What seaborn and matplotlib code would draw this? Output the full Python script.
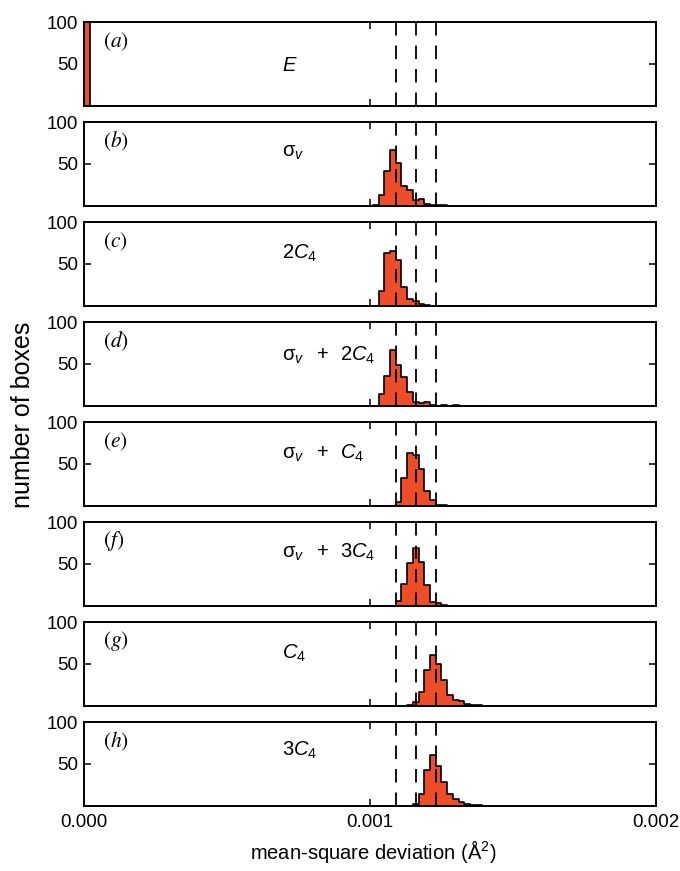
import numpy as np
import pandas as pd
import matplotlib
matplotlib.use("Agg")
import matplotlib.pyplot as plt
import seaborn as sns

sns.set_style("ticks")
plt.rcParams["font.family"] = ["Liberation Sans", "DejaVu Sans"]
plt.rcParams["text.color"] = "black"
plt.rcParams["axes.labelcolor"] = "black"
plt.rcParams["mathtext.fontset"] = "custom"
plt.rcParams["mathtext.rm"] = "Liberation Sans"
plt.rcParams["mathtext.it"] = "Liberation Sans:italic"
plt.rcParams["mathtext.bf"] = "Liberation Sans:bold"

# histogram bins (mean-square deviation, Å^2)
bin_width = 0.00002
bin_centers = [0.00100, 0.00102, 0.00104, 0.00106, 0.00108, 0.00110, 0.00112,
               0.00114, 0.00116, 0.00118, 0.00120, 0.00122, 0.00124, 0.00126,
               0.00128, 0.00130, 0.00132, 0.00134, 0.00136, 0.00138, 0.00140]

# identity operation: every box sits at zero deviation
identity_msd = [0.0]
identity_count = [236]

counts_b = [0, 1, 13, 41, 67, 51, 23, 18, 7, 8, 2, 1, 1, 1, 0, 0, 0, 0, 0, 0, 0]
counts_c = [0, 0, 17, 63, 65, 54, 22, 8, 5, 2, 1, 0, 0, 0, 0, 0, 0, 0, 0, 0, 0]
counts_d = [0, 0, 14, 35, 67, 49, 34, 16, 4, 3, 4, 1, 0, 1, 0, 1, 0, 0, 0, 0, 0]
counts_e = [0, 0, 0, 0, 0, 4, 33, 63, 61, 44, 17, 6, 1, 1, 0, 0, 0, 0, 0, 0, 0]
counts_f = [0, 0, 0, 0, 0, 5, 26, 51, 69, 52, 24, 4, 3, 1, 0, 0, 0, 0, 0, 0, 0]
counts_g = [0, 0, 0, 0, 0, 0, 0, 1, 4, 16, 43, 61, 50, 30, 13, 7, 5, 2, 1, 1, 0]
counts_h = [0, 0, 0, 0, 0, 0, 0, 0, 2, 14, 42, 61, 47, 28, 14, 8, 4, 2, 1, 1, 0]

panel_tags = ["a", "b", "c", "d", "e", "f", "g", "h"]
operations = [r"$E$",
              r"$\mathrm{\sigma}_{v}$",
              r"$2C_{4}$",
              r"$\mathrm{\sigma}_{v}\ \ +\ \,2C_{4}$",
              r"$\mathrm{\sigma}_{v}\ \ +\ \,C_{4}$",
              r"$\mathrm{\sigma}_{v}\ \ +\ \,3C_{4}$",
              r"$C_{4}$",
              r"$3C_{4}$"]
operation_y = [0.48, 0.63, 0.63, 0.60, 0.63, 0.64, 0.63, 0.66]

# reference deviations marked by dashed lines
reference_msd = [0.00109, 0.00116, 0.00123]

x_ticks = [0.000, 0.001, 0.002]
y_ticks = [50, 100]

fill_color = "#EE4E27"

series = [(identity_msd, identity_count)] + [
    (bin_centers, c) for c in
    [counts_b, counts_c, counts_d, counts_e, counts_f, counts_g, counts_h]]

fig, axes = plt.subplots(8, 1, figsize=(6.8, 8.71), dpi=100, sharex=True)
fig.subplots_adjust(left=0.1235, right=0.9647, top=0.9747, bottom=0.0752,
                    hspace=0.198)

for i, (ax, (values, counts), tag, op, oy) in enumerate(
        zip(axes, series, panel_tags, operations, operation_y)):
    df = pd.DataFrame({"msd": values, "boxes": counts})
    if i == 0:
        # zero-deviation boxes fall in the first bin starting at 0
        rng = (0.0, bin_width)
    else:
        rng = (df["msd"].min() - bin_width / 2,
               df["msd"].max() + bin_width / 2)
    sns.histplot(data=df, x="msd", weights="boxes", binwidth=bin_width,
                 binrange=rng, element="step", fill=True,
                 color=fill_color, alpha=1, edgecolor="black",
                 linewidth=1.2, ax=ax)
    for ref in reference_msd:
        ax.axvline(ref, color="black", lw=1.3, linestyle=(0, (7.5, 5.5)),
                   zorder=3)
    ax.set_xlim(0, 0.002)
    ax.set_ylim(0, 100)
    ax.set_xticks(x_ticks)
    ax.set_yticks(y_ticks)
    ax.set_ylabel("")
    ax.set_xlabel("")
    ax.tick_params(direction="in", top=True, right=True, length=5, width=1.1,
                   labelsize=13.5, colors="black")
    ax.tick_params(axis="y", pad=4)
    ax.tick_params(axis="x", pad=6)
    for s in ax.spines.values():
        s.set_visible(True)
        s.set_linewidth(1.4)
        s.set_color("black")
    ax.text(0.033, 0.77, rf"$({tag})$", transform=ax.transAxes,
            fontsize=15.5, math_fontfamily="stix", va="center", ha="left",
            color="black")
    ax.text(0.347, oy, op, transform=ax.transAxes, fontsize=14.5,
            va="center", ha="left", color="black")

axes[-1].xaxis.set_major_formatter(matplotlib.ticker.FormatStrFormatter("%.3f"))

fig.text(0.034, 0.524, "number of boxes", rotation=90, ha="center",
         va="center", fontsize=18, color="black")
fig.text(0.549, 0.022, "mean-square deviation (Å$^{2}$)", ha="center",
         va="center", fontsize=14.5, color="black")

fig.savefig("out.png", dpi=100)
